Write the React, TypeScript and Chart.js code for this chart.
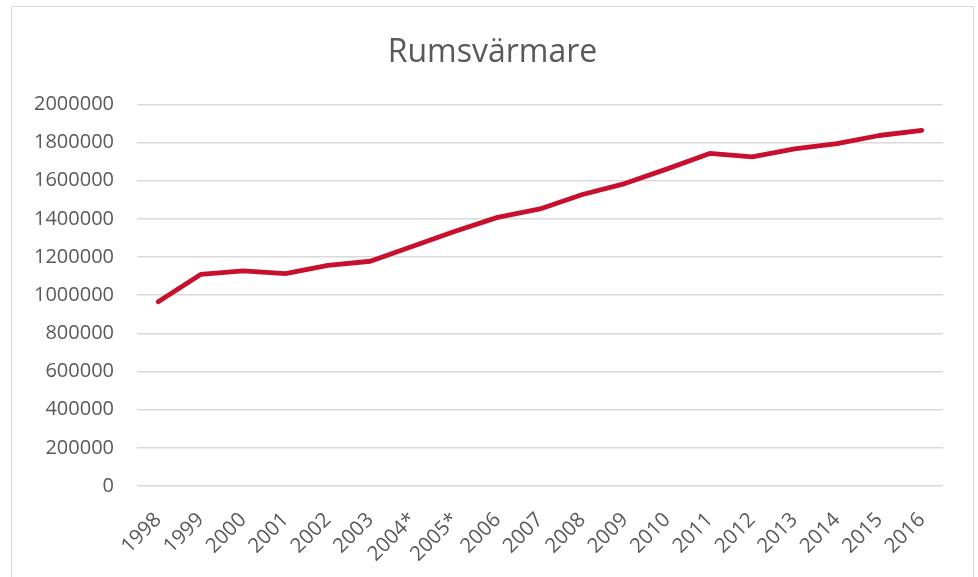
import React, { useEffect, useRef } from "react";
import { Chart, registerables } from "chart.js";

Chart.register(...registerables);

const years = [
  "1998", "1999", "2000", "2001", "2002", "2003", "2004*", "2005*", "2006", "2007",
  "2008", "2009", "2010", "2011", "2012", "2013", "2014", "2015", "2016",
];
const values = [
  966000, 1109000, 1127000, 1113000, 1156000, 1178000, 1256000, 1335000, 1408000, 1452000,
  1528000, 1585000, 1662000, 1743000, 1725000, 1767000, 1794000, 1837000, 1864000,
];
const chartTitle = "Rumsvärmare";
const yMin = 0;
const yMax = 2000000;
const yStep = 200000;

export default function App() {
  const ref = useRef<HTMLCanvasElement | null>(null);
  useEffect(() => {
    if (!ref.current) return;
    const chart = new Chart(ref.current, {
      type: "line",
      data: {
        labels: years,
        datasets: [
          {
            data: values,
            borderColor: "#C8102E",
            borderWidth: 4.8,
            borderCapStyle: "round",
            borderJoinStyle: "round",
            pointRadius: 0,
            tension: 0,
            fill: false,
            yAxisID: "y",
          },
        ],
      },
      options: {
        animation: false,
        responsive: false,
        maintainAspectRatio: false,
        layout: { padding: { left: 0, right: 0, top: 0, bottom: 0 } },
        plugins: {
          legend: { display: false },
          tooltip: { enabled: false },
          title: {
            display: true,
            text: chartTitle,
            color: "#595959",
            font: { family: "'Open Sans'", size: 32, weight: "normal", lineHeight: 1.2 },
            padding: { top: 27, bottom: 32 },
          },
        },
        scales: {
          x: {
            offset: true,
            grid: { display: false, drawTicks: false },
            border: { display: false },
            ticks: {
              color: "#595959",
              font: { family: "'Open Sans'", size: 20.5 },
              minRotation: 45,
              maxRotation: 45,
              autoSkip: false,
              padding: 22,
            },
            afterFit: (s: any) => {
              s.height = 99;
            },
          },
          y: {
            min: yMin,
            max: yMax,
            grid: { color: "#d9d9d9", lineWidth: 1.5, drawTicks: false },
            border: { display: false },
            ticks: {
              stepSize: yStep,
              color: "#595959",
              font: { family: "'Open Sans'", size: 20 },
              padding: 23,
              callback: (v: any) => String(v),
            },
            afterFit: (s: any) => {
              s.width = 125;
            },
          },
          yRight: {
            position: "right",
            min: yMin,
            max: yMax,
            grid: { display: false, drawTicks: false },
            border: { display: false },
            ticks: { display: false },
            afterFit: (s: any) => {
              s.width = 30;
            },
          },
        },
      },
    });
    return () => chart.destroy();
  }, []);
  return (
    <div
      style={{
        position: "absolute",
        left: 11,
        top: 6,
        width: 963,
        height: 580,
        border: "1px solid #d9d9d9",
        boxSizing: "border-box",
        background: "#fff",
      }}
    >
      <canvas ref={ref} width={961} height={578} style={{ display: "block" }} />
    </div>
  );
}
